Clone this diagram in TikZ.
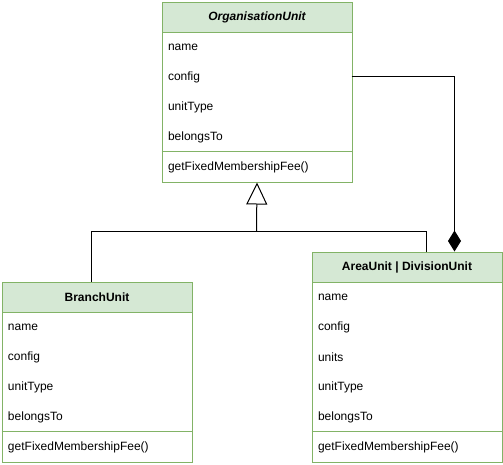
\documentclass[tikz,border=0pt]{standalone}
\usepackage{fontspec}
\setmainfont{Liberation Sans}
\usetikzlibrary{arrows.meta}
\definecolor{umlfill}{HTML}{D5E8D4}
\definecolor{umlstroke}{HTML}{82B366}
\begin{document}
\begin{tikzpicture}[x=1pt,y=-1pt,line width=1pt,
  hdr/.style={draw=umlstroke,fill=umlfill,minimum width=190pt,minimum height=30pt,
    inner sep=0pt,anchor=north west,font=\fontsize{12pt}{14pt}\selectfont\bfseries},
  body/.style={draw=umlstroke,fill=white,minimum width=190pt,inner sep=0pt,anchor=north west},
  attr/.style={anchor=west,inner sep=0pt,yshift=-1pt,font=\fontsize{12pt}{14pt}\selectfont},
  sep/.style={draw=umlstroke},
  link/.style={draw=black,line width=1pt}]
\useasboundingbox (0,0) rectangle (503,464);

% OrganisationUnit (abstract)
\node[hdr] (orgH) at (161.5,1.5) {\itshape OrganisationUnit};
\node[body,minimum height=150pt] (orgB) at (161.5,31.5) {};
\node[attr] (orgA1) at (167.5,46.5) {name};
\node[attr] (orgA2) at (167.5,76.5) {config};
\node[attr] (orgA3) at (167.5,106.5) {unitType};
\node[attr] (orgA4) at (167.5,136.5) {belongsTo};
\draw[sep] (161.5,151.5) -- (351.5,151.5);
\node[attr] (orgM1) at (167.5,166.5) {getFixedMembershipFee()};

% BranchUnit
\node[hdr] (brH) at (1.5,281.5) {BranchUnit};
\node[body,minimum height=150pt] (brB) at (1.5,311.5) {};
\node[attr] (brA1) at (7.5,326.5) {name};
\node[attr] (brA2) at (7.5,356.5) {config};
\node[attr] (brA3) at (7.5,386.5) {unitType};
\node[attr] (brA4) at (7.5,416.5) {belongsTo};
\draw[sep] (1.5,431.5) -- (191.5,431.5);
\node[attr] (brM1) at (7.5,446.5) {getFixedMembershipFee()};

% AreaUnit | DivisionUnit
\node[hdr] (arH) at (311.5,251.5) {AreaUnit | DivisionUnit};
\node[body,minimum height=180pt] (arB) at (311.5,281.5) {};
\node[attr] (arA1) at (317.5,296.5) {name};
\node[attr] (arA2) at (317.5,326.5) {config};
\node[attr] (arA3) at (317.5,356.5) {units};
\node[attr] (arA4) at (317.5,386.5) {unitType};
\node[attr] (arA5) at (317.5,416.5) {belongsTo};
\draw[sep] (311.5,431.5) -- (501.5,431.5);
\node[attr] (arM1) at (317.5,446.5) {getFixedMembershipFee()};

% Generalisation
\coordinate (join) at (256.5,231.5);
\coordinate (brIn) at (91.5,281.5);
\coordinate (arIn) at (426.5,251.5);
\draw[link] (brIn) |- (join) -| (arIn);
\draw[link,-{Triangle[open,length=22pt,width=21pt,line width=1pt]}] (join) -- (orgB.south);

% Composition
\coordinate (cmpStart) at (351.5,76.5);
\coordinate (cmpEnd) at (454.5,251.5);
\draw[link,-{Diamond[length=21pt,width=13pt]}] (cmpStart) -| (cmpEnd);
\end{tikzpicture}
\end{document}
